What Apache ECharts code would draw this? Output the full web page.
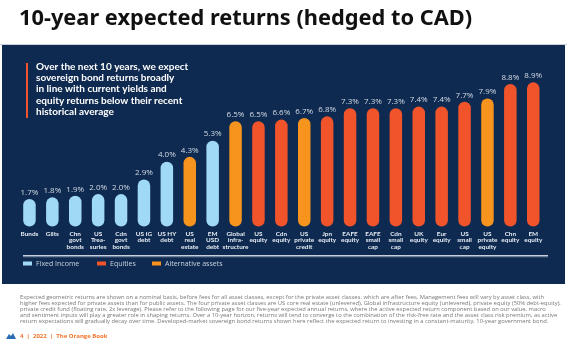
<!DOCTYPE html>
<html><head><meta charset="utf-8">
<script src="https://cdn.jsdelivr.net/npm/echarts@6/dist/echarts.min.js"></script>
<style>html,body{margin:0;padding:0;background:#fff}#c{width:567px;height:359px}</style>
</head><body><div id="c"></div>
<script>
const categories = ['Bunds','Gilts','Chn\ngovt\nbonds','US\nTrea-\nsuries','Cdn\ngovt\nbonds','US IG\ndebt','US HY\ndebt','US\nreal\nestate','EM\nUSD\ndebt','Global\ninfra-\nstructure','US\nequity','Cdn\nequity','US\nprivate\ncredit','Jpn\nequity','EAFE\nequity','EAFE\nsmall\ncap','Cdn\nsmall\ncap','UK\nequity','Eur\nequity','US\nsmall\ncap','US\nprivate\nequity','Chn\nequity','EM\nequity'];
const values = [1.7,1.8,1.9,2.0,2.0,2.9,4.0,4.3,5.3,6.5,6.5,6.6,6.7,6.8,7.3,7.3,7.3,7.4,7.4,7.7,7.9,8.8,8.9];
const groups = ['F','F','F','F','F','F','F','A','F','A','E','E','A','E','E','E','E','E','E','E','A','E','E'];
const seriesNames = ['Fixed Income','Equities','Alternative assets'];
const seriesKeys = ['F','E','A'];
const seriesColors = ['#a0d9f5','#f1542b','#f7941d'];
const footnote = [
'Expected geometric returns are shown on a nominal basis, before fees for all asset classes, except for the private asset classes, which are after fees. Management fees will vary by asset class, with',
'higher fees expected for private assets than for public assets. The four private asset classes are US core real estate (unlevered), Global infrastructure equity (unlevered), private equity (50% debt-equity),',
'private credit fund (floating rate, 2x leverage). Please refer to the following page for our five-year expected annual returns, where the active expected return component based on our value, macro',
'and sentiment inputs will play a greater role in shaping returns. Over a 10-year horizon, returns will tend to converge to the combination of the risk-free rate and the asset class risk premium, as active',
'return expectations will gradually decay over time. Developed-market sovereign bond returns shown here reflect the expected return to investing in a constant-maturity, 10-year government bond.'
];
const subtitle = 'Over the next 10 years, we expect\nsovereign bond returns broadly\nin line with current yields and\nequity returns below their recent\nhistorical average';

const chart = echarts.init(document.getElementById('c'), null, {renderer:'canvas'});
const series = seriesKeys.map((k,i)=>({
  name: seriesNames[i], type:'bar', stack:'all', barWidth:12.5,
  itemStyle:{color:seriesColors[i], borderRadius:6.25},
  label:{show:true, position:'top', distance:2.5, color:'#d3dbe6', fontSize:8, fontFamily:'Open Sans',
    formatter: p => p.value.toFixed(1)+'%'},
  data: values.map((v,j)=> groups[j]===k ? v : '-')
}));
const legendPos = [23, 97, 152];
const graphics = [
  {type:'rect', z:-1, shape:{x:2,y:45,width:563,height:239}, style:{fill:'#0e2a50'}},
  {type:'rect', shape:{x:0,y:44,width:567,height:1}, style:{fill:'#c9d0d8'}},
  {type:'text', left:19, top:7.5, style:{text:'10-year expected returns (hedged to CAD)', fill:'#111', font:'bold 21.8px "Noto Sans"'}},
  {type:'rect', shape:{x:26,y:63,width:2,height:55}, style:{fill:'#f1542b'}},
  {type:'text', left:36, top:61, style:{text:subtitle, fill:'#ffffff', font:'bold 10px Lato', lineHeight:11.3}},
  {type:'rect', shape:{x:23,y:255,width:525,height:1.2}, style:{fill:'#c7d0dc'}},
  {type:'rect', shape:{x:23,y:256.2,width:525,height:1}, style:{fill:'#7f8fa6'}},
  {type:'text', left:20, top:333, style:{text:'4  |  2022  |  The Orange Book', fill:'#f1742b', font:'bold 6px "Open Sans"'}},
  {type:'polygon', shape:{points:[[6,339],[9,334],[11,336],[13,333],[16,339]]}, style:{fill:'#2a6db5'}}
];
footnote.forEach((t,i)=>{
  graphics.push({type:'text', left:20, top:294.5+i*6, style:{text:t, fill:'#777', font:'5.8px "Open Sans"'}});
});
chart.setOption({
  backgroundColor:'#ffffff',
  animation:false,
  grid:{left:18, right:22.3, top:64.5, bottom:132.5},
  xAxis:{type:'category', data:categories, axisLine:{show:false}, axisTick:{show:false},
    axisLabel:{interval:0, margin:4, color:'#e6ecf4', fontSize:6.4, fontWeight:'bold', fontFamily:'Lato', lineHeight:6.4}},
  yAxis:{type:'value', min:0, max:10, show:false, splitLine:{show:false}},
  legend: seriesNames.map((n,i)=>({data:[n], left:legendPos[i]-0, top:260, icon:'rect', itemWidth:9, itemHeight:4, itemGap:0,
    textStyle:{color:'#c9d3df', fontSize:7, fontFamily:'Open Sans', padding:[0,0,0,-1]}, padding:0, selectedMode:false})),
  series: series,
  graphic: graphics
});
</script></body></html>
